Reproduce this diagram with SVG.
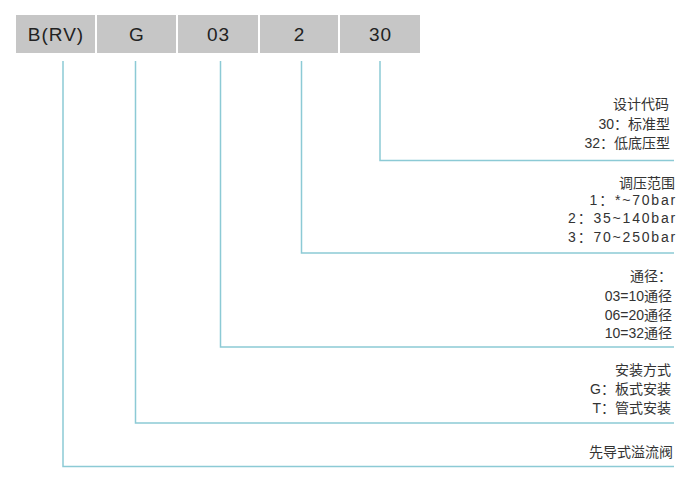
<svg xmlns="http://www.w3.org/2000/svg" width="700" height="486" viewBox="0 0 700 486">
<style>
.box{fill:#c6c6c6;}
.bt{font-family:"Liberation Sans",Arial,sans-serif;font-size:19px;letter-spacing:1px;fill:#222;text-anchor:middle;}
.t{font-family:"Liberation Sans","Noto Sans CJK SC",sans-serif;font-size:14px;fill:#333;text-anchor:end;}
.ts{letter-spacing:1.8px;}
.ln{fill:none;stroke:#8ccad5;stroke-width:1.5;}
</style>
<rect width="700" height="486" fill="#fff"/>
<g id="node-brv"><rect class="box" x="16" y="15" width="79" height="38"/><text class="bt" x="56" y="41">B(RV)</text></g>
<g id="node-g"><rect class="box" x="97" y="15" width="79" height="38"/><text class="bt" x="137" y="41">G</text></g>
<g id="node-03"><rect class="box" x="178" y="15" width="80" height="38"/><text class="bt" x="218.5" y="41">03</text></g>
<g id="node-2"><rect class="box" x="260" y="15" width="78" height="38"/><text class="bt" x="299.5" y="41">2</text></g>
<g id="node-30"><rect class="box" x="340" y="15" width="80" height="38"/><text class="bt" x="380.5" y="41">30</text></g>
<g id="connectors">
<polyline class="ln" points="380,61 380,160.5 674,160.5"/>
<polyline class="ln" points="301.5,61 301.5,253 674,253"/>
<polyline class="ln" points="220.5,61 220.5,347 674,347"/>
<polyline class="ln" points="135.5,61 135.5,423 674,423"/>
<polyline class="ln" points="63,61 63,466.5 674,466.5"/>
</g>
<g id="label-30">
<text class="t" x="669" y="109">设计代码</text>
<text class="t" x="670" y="129">30：标准型</text>
<text class="t" x="670" y="148">32：低底压型</text>
</g>
<g id="label-2">
<text class="t" x="675" y="188">调压范围</text>
<text class="t ts" x="677" y="205">1：*~70bar</text>
<text class="t ts" x="677" y="223">2：35~140bar</text>
<text class="t ts" x="677" y="242">3：70~250bar</text>
</g>
<g id="label-03">
<text class="t" x="672" y="281">通径：</text>
<text class="t" x="672" y="301">03=10通径</text>
<text class="t" x="672" y="320">06=20通径</text>
<text class="t" x="672" y="338">10=32通径</text>
</g>
<g id="label-g">
<text class="t" x="671" y="375">安装方式</text>
<text class="t" x="671" y="394">G：板式安装</text>
<text class="t" x="671" y="413">T：管式安装</text>
</g>
<g id="label-b">
<text class="t" x="673" y="457">先导式溢流阀</text>
</g>
</svg>
